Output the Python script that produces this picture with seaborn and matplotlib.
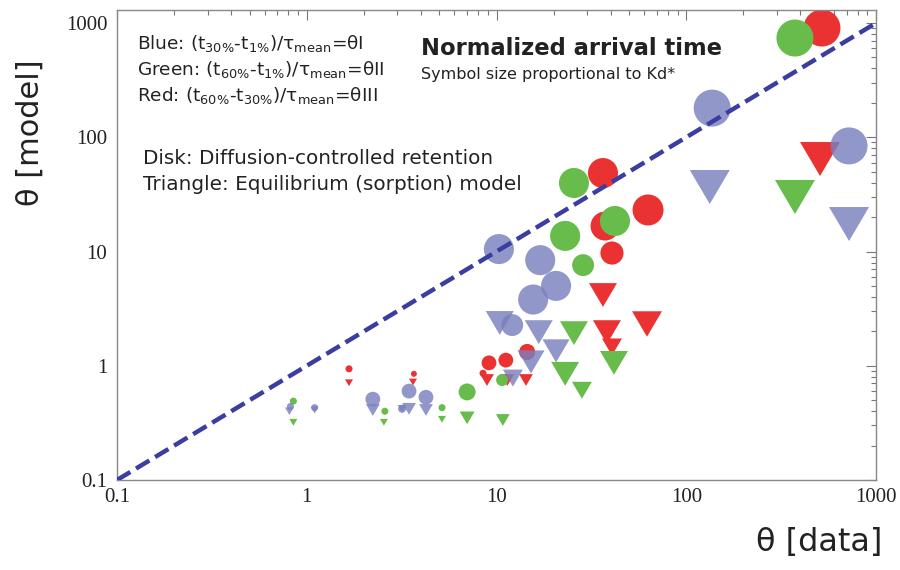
import numpy as np
import pandas as pd
import matplotlib
matplotlib.use("Agg")
import matplotlib.pyplot as plt
from matplotlib.path import Path
import seaborn as sns

# ---------------- data ----------------
# Blue: theta I, disks (diffusion-controlled) and triangles (equilibrium)
blue_disk_x = [137, 721, 10.3, 17.0, 20.6, 15.6, 12.1, 2.23, 3.46, 4.25, 0.82, 1.10, 3.18]
blue_disk_y = [180, 84, 10.5, 8.4, 5.0, 3.8, 2.27, 0.51, 0.60, 0.53, 0.44, 0.43, 0.42]
blue_disk_kd = [100, 100, 66, 66, 66, 66, 35, 16, 16, 16, 3.6, 3.6, 4.7]

blue_tri_x = [133, 721, 10.4, 16.7, 20.6, 15.2, 12.2, 2.23, 3.46, 4.25, 0.81, 1.10, 3.18]
blue_tri_y = [36.7, 17.4, 2.37, 1.97, 1.35, 1.08, 0.78, 0.41, 0.42, 0.41, 0.40, 0.41, 0.42]
blue_tri_kd = [100, 100, 49, 49, 46, 46, 25, 12, 12, 12, 5, 4, 5]

# Green: theta II
green_disk_x = [374, 25.6, 42.1, 23.0, 28.6, 7.0, 10.7, 0.85, 2.58, 5.16]
green_disk_y = [739, 39.8, 18.5, 13.7, 7.6, 0.59, 0.75, 0.49, 0.40, 0.43]
green_disk_kd = [105, 66, 66, 66, 35, 21, 10.5, 3.6, 3.6, 3.6]

green_tri_x = [374, 25.6, 41.6, 23.0, 28.2, 7.0, 10.8, 0.85, 2.55, 5.16]
green_tri_y = [30.0, 1.93, 1.06, 0.85, 0.61, 0.35, 0.335, 0.32, 0.32, 0.34]
green_tri_kd = [100, 49, 49, 49, 25, 14, 12, 4, 4, 4]

# Red: theta III
red_disk_x = [519, 36.4, 37.3, 62.9, 40.6, 14.5, 9.13, 11.2, 1.67, 3.67, 8.49]
red_disk_y = [904, 48.6, 16.7, 23.1, 9.7, 1.32, 1.06, 1.12, 0.94, 0.85, 0.86]
red_disk_kd = [100, 66, 61, 70, 39, 19, 16, 16, 3.6, 2.6, 3.6]

red_tri_x = [507, 36.4, 62.1, 38.2, 40.6, 14.3, 8.91, 11.4, 1.67, 3.63]
red_tri_y = [64.5, 4.16, 2.32, 1.97, 1.46, 0.75, 0.75, 0.75, 0.71, 0.72]
red_tri_kd = [100, 49, 56, 49, 25, 12, 12, 12, 4, 4]

identity = [0.1, 1000]
tick_values = [0.1, 1, 10, 100, 1000]
tick_labels = ["0.1", "1", "10", "100", "1000"]

# ---------------- table ----------------
rows = []
for series, shape, xs, ys, kds in [
    ("θIII", "disk", red_disk_x, red_disk_y, red_disk_kd),
    ("θIII", "triangle", red_tri_x, red_tri_y, red_tri_kd),
    ("θII", "disk", green_disk_x, green_disk_y, green_disk_kd),
    ("θII", "triangle", green_tri_x, green_tri_y, green_tri_kd),
    ("θI", "disk", blue_disk_x, blue_disk_y, blue_disk_kd),
    ("θI", "triangle", blue_tri_x, blue_tri_y, blue_tri_kd),
]:
    for x, y, k in zip(xs, ys, kds):
        rows.append(dict(series=series, shape=shape, data=x, model=y, kd=k))
df = pd.DataFrame(rows)

# ---------------- style ----------------
sns.set_style("white")
plt.rcParams["font.family"] = ["DejaVu Sans"]
plt.rcParams["mathtext.fontset"] = "dejavusans"

colors = {"θI": "#7a80be", "θII": "#68bc4c", "θIII": "#ea3232"}
alphas = {"θI": 0.82, "θII": 1.0, "θIII": 1.0}
zorders = {"θIII": 2, "θII": 3, "θI": 4}

tri_path = Path([(-1.0, 0.85), (1.0, 0.85), (0.0, -0.85), (-1.0, 0.85)],
                [Path.MOVETO, Path.LINETO, Path.LINETO, Path.CLOSEPOLY])
markers = {"disk": "o", "triangle": tri_path}
max_sizes = {"disk": 710, "triangle": 830}

fig = plt.figure(figsize=(9, 5.7), dpi=100)
ax = fig.add_axes([117 / 900, 90 / 570, 759 / 900, 470 / 570])

for series in ["θIII", "θII", "θI"]:
    for shape in ["disk", "triangle"]:
        sub = df[(df.series == series) & (df["shape"] == shape)]
        sns.scatterplot(data=sub, x="data", y="model", size="kd",
                        sizes=(0, max_sizes[shape]), size_norm=(0, 100),
                        marker=markers[shape], color=colors[series],
                        alpha=alphas[series], linewidth=0, edgecolor="none",
                        legend=False, ax=ax, zorder=zorders[series])

ax.plot(identity, identity, color="#3a3ea0", lw=3.2, dashes=(3.5, 1.5),
        dash_capstyle="butt", zorder=6)

ax.set_xscale("log")
ax.set_yscale("log")
ax.set_xlim(0.1, 1000)
ax.set_ylim(0.1, 1300)
ax.set_xticks(tick_values, tick_labels)
ax.set_yticks(tick_values, tick_labels)
for lab in ax.get_xticklabels() + ax.get_yticklabels():
    lab.set_fontfamily("Liberation Serif")
    lab.set_fontsize(15)
    lab.set_color("#222222")
ax.tick_params(which="both", direction="in", top=True, right=True,
               color="#777777", width=0.8)
ax.tick_params(which="major", length=7)
ax.tick_params(which="minor", length=3.5)
ax.tick_params(axis="x", pad=6)
ax.tick_params(axis="y", pad=7)
for sp in ax.spines.values():
    sp.set_color("#888888")
    sp.set_linewidth(1.0)

ax.set_xlabel("θ [data]", fontsize=23, color="#222222")
ax.xaxis.set_label_coords(0.925, -0.10)
ax.set_ylabel("θ [model]", fontsize=22, color="#222222")
ax.yaxis.set_label_coords(-0.095, 0.738)

def fx(px):
    return px / 900

def fy(py):
    return 1 - py / 570

legend_lines = [
    r"Blue: (t$_{\mathrm{30\%}}$-t$_{\mathrm{1\%}}$)/τ$_{\mathrm{mean}}$=θI",
    r"Green: (t$_{\mathrm{60\%}}$-t$_{\mathrm{1\%}}$)/τ$_{\mathrm{mean}}$=θII",
    r"Red: (t$_{\mathrm{60\%}}$-t$_{\mathrm{30\%}}$)/τ$_{\mathrm{mean}}$=θIII",
]
for i, t in enumerate(legend_lines):
    fig.text(fx(137), fy(49 + 26 * i), t, fontsize=13.3, color="#222222", va="baseline")

fig.text(fx(143), fy(164), "Disk: Diffusion-controlled retention", fontsize=14.4,
         color="#222222", va="baseline")
fig.text(fx(143), fy(190), "Triangle: Equilibrium (sorption) model", fontsize=14.4,
         color="#222222", va="baseline")

fig.text(fx(421), fy(55), "Normalized arrival time", fontsize=16.3, fontweight="bold",
         color="#222222", va="baseline")
fig.text(fx(421), fy(79), "Symbol size proportional to Kd*", fontsize=11.5,
         color="#222222", va="baseline")

fig.savefig("out.png", dpi=100)
